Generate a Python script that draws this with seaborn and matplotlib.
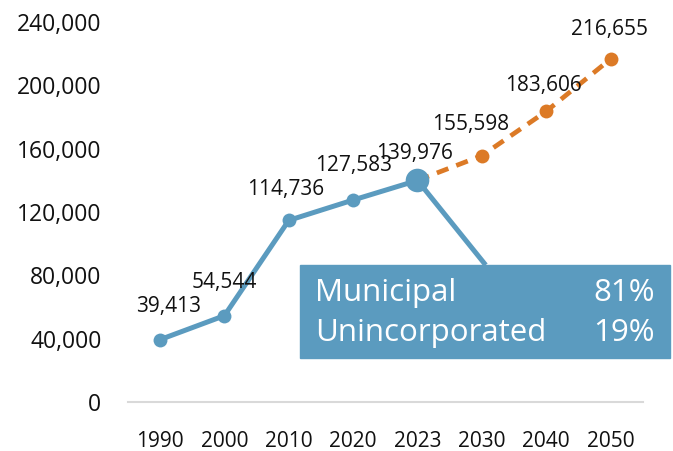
import numpy as np
import pandas as pd
import matplotlib
matplotlib.use('Agg')
import matplotlib.pyplot as plt
import seaborn as sns

# data
years = ['1990', '2000', '2010', '2020', '2023', '2030', '2040', '2050']
historic = [39413, 54544, 114736, 127583, 139976]
projected = [139976, 155598, 183606, 216655]
share_labels = ['Municipal', 'Unincorporated']
share_values = ['81%', '19%']

blue = '#5b9bbf'
orange = '#dc7a26'

sns.set_theme(style='white')
plt.rcParams['font.family'] = ['Open Sans', 'DejaVu Sans']

hist_df = pd.DataFrame({'pos': np.arange(len(historic)), 'pop': historic})
proj_df = pd.DataFrame({'pos': np.arange(len(historic) - 1, len(years)), 'pop': projected})

fig = plt.figure(figsize=(6.73, 4.51), dpi=100)
ax = fig.add_axes([0.19, 0.1086, 0.765, 0.8425])

sns.lineplot(data=proj_df, x='pos', y='pop', ax=ax, color=orange, lw=3.4,
             linestyle=(0, (2.6, 1.8)), marker='o', markersize=10, markeredgewidth=0)
sns.lineplot(data=hist_df, x='pos', y='pop', ax=ax, color=blue, lw=3.6,
             marker='o', markersize=10, markeredgewidth=0)
# emphasised current-year point
last = hist_df.iloc[-1]
ax.plot(last['pos'], last['pop'], 'o', color=blue, markersize=17, markeredgewidth=0, zorder=5)

# leader line to the share box
ax.plot([last['pos'], last['pos'] + 1.06], [last['pop'], 86500], color=blue, lw=3.6,
        solid_capstyle='butt', zorder=4)

# value labels
hist_off = [(6, 16), (0, 16), (-2, 15), (0, 17), (-2, 12)]
for (p, v), off in zip(hist_df[['pos', 'pop']].values, hist_off):
    ax.annotate(f'{int(v):,}', (p, v), xytext=off, textcoords='offset points',
                ha='center', va='bottom', fontsize=15, color='#111111')
proj_off = [(-8, 15), (-2, 11), (-1, 14)]
for (p, v), off in zip(proj_df[['pos', 'pop']].values[1:], proj_off):
    ax.annotate(f'{int(v):,}', (p, v), xytext=off, textcoords='offset points',
                ha='center', va='bottom', fontsize=15, color='#111111')

# share box
box = plt.Rectangle((300 / 673, (451 - 358) / 451), 370 / 673, 93 / 451,
                    transform=fig.transFigure, color=blue, zorder=6, clip_on=False)
fig.patches.append(box)
for i, (lab, val) in enumerate(zip(share_labels, share_values)):
    y = (451 - 293 - 40 * i) / 451
    fig.text(315 / 673, y, lab, color='white', fontsize=22.5, va='center', ha='left', zorder=7)
    fig.text(655 / 673, y, val, color='white', fontsize=22.5, va='center', ha='right', zorder=7)

ax.set_xlim(-0.5, len(years) - 0.5)
ax.set_ylim(0, 240000)
ax.set_xticks(range(len(years)))
ax.set_xticklabels(years)
ax.set_yticks(np.arange(0, 240001, 40000))
ax.set_yticklabels([f'{int(t):,}' for t in np.arange(0, 240001, 40000)])
ax.tick_params(axis='x', labelsize=15, colors='#111111', length=0, pad=21)
ax.tick_params(axis='y', labelsize=16.5, colors='#111111', length=0, pad=19)
ax.set_xlabel('')
ax.set_ylabel('')
for s in ['top', 'right', 'left']:
    ax.spines[s].set_visible(False)
ax.spines['bottom'].set_color('#d9d9d9')
ax.spines['bottom'].set_linewidth(1.5)

fig.savefig('out.png', dpi=100)
